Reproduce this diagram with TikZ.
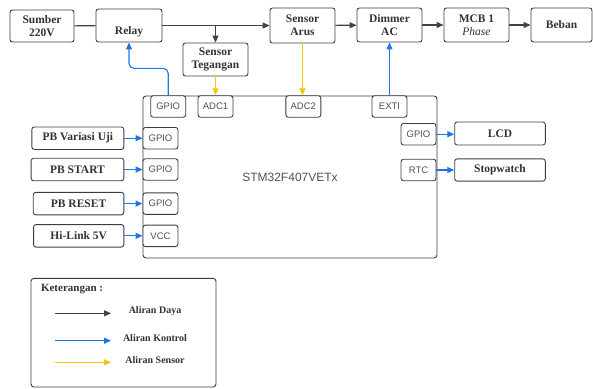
\documentclass[tikz,border=0pt]{standalone}
\usepackage{fontspec}
\setmainfont{Liberation Serif}
\newfontfamily\portfont{Liberation Sans}
\usetikzlibrary{arrows.meta}
\definecolor{daya}{RGB}{62,66,74}
\definecolor{kontrol}{RGB}{32,116,230}
\definecolor{sensor}{RGB}{248,196,10}
\definecolor{garis}{RGB}{58,62,68}
\definecolor{teks}{RGB}{50,50,55}
\tikzset{
 blok/.style={draw=garis, line width=0.9pt, rounded corners=2.5pt, align=center, inner sep=0pt, text=teks, font=\fontsize{11.5}{13}\selectfont\bfseries},
 port/.style={draw=garis, fill=white, line width=0.9pt, rounded corners=2.5pt, inner sep=0pt, minimum width=35pt, minimum height=21.5pt, text=teks!85, font=\portfont\fontsize{9.5}{11}\selectfont},
 aliran/.style={line width=1.1pt, ->, >={Triangle[length=7pt,width=6pt]}},
 ket/.style={text=teks, font=\fontsize{10}{12}\selectfont\bfseries},
}
\begin{document}
\begin{tikzpicture}[x=1pt, y=-1pt]
\useasboundingbox (0,0) rectangle (593,388);
% jalur daya
\node[blok, minimum width=64pt, minimum height=32pt] (sumber) at (42,26) {Sumber\\220V};
\node[blok, minimum width=66pt, minimum height=33pt] (relay) at (129,25.5) {\vphantom{Ay}\\Relay};
\node[blok, minimum width=65pt, minimum height=33pt] (tegangan) at (215.5,59.5) {Sensor\\Tegangan};
\node[blok, minimum width=65pt, minimum height=35pt] (arus) at (302.5,25.5) {Sensor\\Arus};
\node[blok, minimum width=65pt, minimum height=34pt] (dimmer) at (389.5,25) {Dimmer\\AC};
\node[blok, minimum width=65pt, minimum height=34pt] (mcb) at (476.5,25) {MCB 1\\{\mdseries\itshape Phase}};
\node[blok, minimum width=61pt, minimum height=34pt] (beban) at (561.5,25) {Beban};
% mikrokontroler
\node[draw=garis, line width=0.9pt, rounded corners=3pt, minimum width=294pt, minimum height=162pt,
 text=teks!85, font=\portfont\fontsize{12}{14}\selectfont] (stm) at (290,177) {STM32F407VETx};
\node[port] (gpioa) at (168.2,106.5) {GPIO};
\node[port] (adc1) at (215.5,106.5) {ADC1};
\node[port] (adc2) at (303.3,106.5) {ADC2};
\node[port] (exti) at (389.5,106.5) {EXTI};
\node[port] (gpiol) at (418.5,134.2) {GPIO};
\node[port] (rtc) at (418.5,170) {RTC};
\node[blok, minimum width=90.6pt, minimum height=23pt] (lcd) at (500,133.5) {LCD};
\node[blok, minimum width=90.6pt, minimum height=22.3pt] (stopwatch) at (500,170) {Stopwatch};
% masukan kiri
\foreach \i/\lbl/\pin/\yy/\bw in {1/PB Variasi Uji/GPIO/138.2/92, 2/PB START/GPIO/169.5/92.7,
  3/PB RESET/GPIO/203.6/90.6, 4/Hi-Link 5V/VCC/235.8/90.3} {
 \node[port] (in\i) at (160.5,\yy) {\pin};
 \node[blok, minimum width=\bw pt, minimum height=22.5pt, anchor=east] (pb\i) at (124.3,\yy) {\lbl};
 \draw[aliran, kontrol] (pb\i) -- (in\i);
}
% aliran daya
\draw[daya, line width=1.1pt] (sumber) -- (relay);
\draw[aliran, daya] (relay) -- (arus);
\coordinate (cabang) at (tegangan.north |- relay.east);
\draw[aliran, daya] (cabang) -- (tegangan);
\draw[aliran, daya] (arus) -- (dimmer);
\draw[aliran, daya] (dimmer) -- (mcb);
\draw[aliran, daya] (mcb) -- (beban);
% aliran sensor dan kontrol
\draw[aliran, sensor] (tegangan) -- (adc1);
\draw[aliran, sensor] (arus.south) -- (arus.south |- adc2.north);
\draw[aliran, kontrol, rounded corners=5pt] (gpioa.north) -- ++(0,-27) -| (relay.south);
\draw[aliran, kontrol] (exti) -- (dimmer);
\draw[aliran, kontrol] (gpiol.east) -- (gpiol.east -| lcd.west);
\draw[aliran, kontrol] (rtc.east) -- (rtc.east -| stopwatch.west);
% keterangan
\draw[garis, line width=0.9pt, rounded corners=3pt] (31,278.3) rectangle (216,387);
\node[ket, anchor=west, font=\fontsize{11}{13}\selectfont\bfseries] (judul) at (37.5,289) {Keterangan :};
\foreach \nm/\warna/\yy/\lbl in {daya/daya/313.3/Aliran Daya, kontrol/kontrol/340.7/Aliran Kontrol, sensor/sensor/362.3/Aliran Sensor} {
 \coordinate (a\nm) at (55,\yy);
 \coordinate (b\nm) at (111,\yy);
 \draw[aliran, \warna] (a\nm) -- (b\nm);
 \node[ket] (t\nm) at (155,\yy-2.5) {\lbl};
}
\end{tikzpicture}
\end{document}
